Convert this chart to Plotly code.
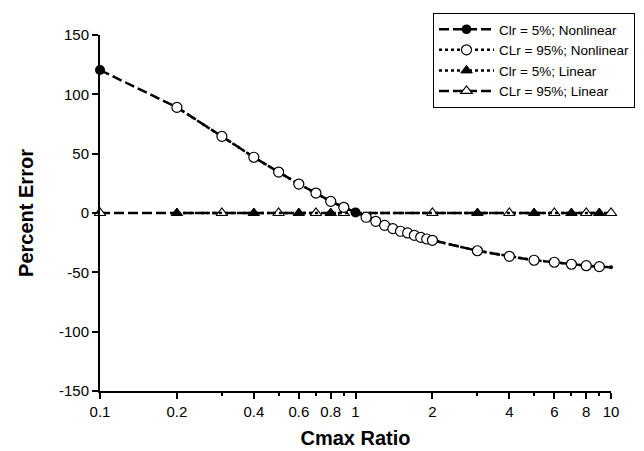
import plotly.graph_objects as go

# ---- data ----
x_nl_filled = [0.1, 0.2, 0.3, 0.4, 0.5, 0.6, 0.7, 0.8, 0.9, 1.0, 2, 3, 4, 5, 6, 7, 8, 9, 10]
y_nl_filled = [120.5, 89, 64.6, 47, 34.5, 24.4, 16.8, 9.8, 4.8, 0.5, -23, -31.8, -36.5, -39.8, -41.5, -43.2, -44.4, -45.2, -45.7]

x_nl_open = [0.2, 0.3, 0.4, 0.5, 0.6, 0.7, 0.8, 0.9, 1.1, 1.2, 1.3, 1.4, 1.5, 1.6, 1.7, 1.8, 1.9, 2.0,
             3, 4, 5, 6, 7, 8, 9]
y_nl_open = [89, 64.6, 47, 34.5, 24.4, 16.8, 9.8, 4.8, -3.6, -7, -10.4, -13.2, -15.4, -16.8, -18.8, -20.5, -21.9, -23,
             -31.8, -36.5, -39.8, -41.5, -43.2, -44.4, -45.2]

x_lin_filled = [0.2, 0.4, 0.6, 0.8, 3, 5, 7, 9]
y_lin_filled = [0, 0, 0, 0, 0, 0, 0, 0]

x_lin_open = [0.1, 0.3, 0.5, 0.7, 0.9, 2, 4, 6, 8, 10]
y_lin_open = [0, 0, 0, 0, 0, 0, 0, 0, 0, 0]

names = ["Clr = 5%; Nonlinear", "CLr = 95%; Nonlinear", "Clr = 5%; Linear", "CLr = 95%; Linear"]

x_tickvals = [0.1, 0.2, 0.4, 0.6, 0.8, 1, 2, 4, 6, 8, 10]
x_ticktext = ["0.1", "0.2", "0.4", "0.6", "0.8", "1", "2", "4", "6", "8", "10"]
x_minor = [0.3, 0.5, 0.7, 0.9, 3, 5, 7, 9]
y_tickvals = [-150, -100, -50, 0, 50, 100, 150]
y_ticktext = ["-150", "-100", "-50", "0", "50", "100", "150"]

FONT = "Arial, Liberation Sans, sans-serif"
DASH = "10px,4px"

# hide the filled-circle marker at the last point (only the line end shows there)
nl_filled_sizes = [10] * (len(x_nl_filled) - 1) + [4]

fig = go.Figure()
fig.add_trace(go.Scatter(
    x=x_lin_open, y=y_lin_open, name=names[3], mode="lines+markers",
    line=dict(color="black", width=2.5, dash=DASH),
    marker=dict(symbol="triangle-up", size=10, color="white", line=dict(color="black", width=1.2)),
    cliponaxis=False, legendrank=4))
fig.add_trace(go.Scatter(
    x=x_lin_filled, y=y_lin_filled, name=names[2], mode="lines+markers",
    line=dict(color="black", width=2.5, dash="dot"),
    marker=dict(symbol="triangle-up", size=10, color="black", line=dict(color="black", width=1)),
    cliponaxis=False, legendrank=3))
fig.add_trace(go.Scatter(
    x=x_nl_filled, y=y_nl_filled, name=names[0], mode="lines+markers",
    line=dict(color="black", width=2.5, dash=DASH),
    marker=dict(symbol="circle", size=nl_filled_sizes, color="black", opacity=1,
                line=dict(color="black", width=0)),
    cliponaxis=False, legendrank=1))
fig.add_trace(go.Scatter(
    x=x_nl_open, y=y_nl_open, name=names[1], mode="lines+markers",
    line=dict(color="black", width=2.5, dash="dot"),
    marker=dict(symbol="circle", size=10, color="white", line=dict(color="black", width=1.2)),
    cliponaxis=False, legendrank=2))

fig.update_layout(
    width=644, height=451,
    margin=dict(l=92, r=41, t=27, b=68, autoexpand=False),
    paper_bgcolor="white", plot_bgcolor="white",
    font=dict(family=FONT, color="black", size=15),
    showlegend=True,
    legend=dict(
        x=(425 - 92) / 511, y=(383 - 5) / 356, xanchor="left", yanchor="top",
        bordercolor="black", borderwidth=1, bgcolor="white",
        font=dict(family=FONT, size=13.5, color="black"),
        itemwidth=55, tracegroupgap=0,
    ),
    xaxis=dict(
        type="log", range=[-1, 1],
        tickmode="array", tickvals=x_tickvals, ticktext=x_ticktext,
        ticks="outside", ticklen=6, tickwidth=1.5, tickcolor="black",
        minor=dict(tickmode="array", tickvals=x_minor, ticks="outside", ticklen=3, tickcolor="black"),
        showline=True, linecolor="black", linewidth=2,
        showgrid=False, zeroline=False,
        tickfont=dict(size=15),
        title=dict(text="<b>Cmax Ratio</b>", font=dict(size=20), standoff=12),
    ),
    yaxis=dict(
        range=[-150, 150],
        tickmode="array", tickvals=y_tickvals, ticktext=y_ticktext,
        ticks="outside", ticklen=6, tickwidth=1.5, tickcolor="black",
        showline=True, linecolor="black", linewidth=2,
        showgrid=False, zeroline=False,
        tickfont=dict(size=15),
        title=dict(text="<b>Percent Error</b>", font=dict(size=20), standoff=20),
    ),
)

fig.write_html("out.html")
